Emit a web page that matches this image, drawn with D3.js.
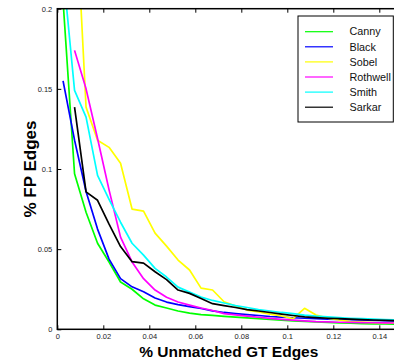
<!DOCTYPE html>
<html>
<head>
<meta charset="utf-8">
<script src="https://cdn.jsdelivr.net/npm/d3@7"></script>
<style>
  html, body { margin: 0; padding: 0; background: #fff; }
  #chart { width: 394px; height: 363px; overflow: hidden; }
  text { font-family: "Liberation Sans", Arial, sans-serif; }
</style>
</head>
<body>
<div id="chart"></div>
<script>
// x positions shared by all curves (% unmatched GT edges)
const unmatched = [0.0025, 0.0075, 0.0125, 0.0175, 0.0225, 0.0275, 0.0325, 0.0375, 0.0425, 0.0475,
  0.0525, 0.0575, 0.0625, 0.0675, 0.0725, 0.0775, 0.0825, 0.0875, 0.0925, 0.0975,
  0.1025, 0.1075, 0.1125, 0.1175, 0.1225, 0.1275, 0.1325, 0.1375, 0.1425, 0.1475];

// % FP edges per detector
const canny = [0.205, 0.097, 0.073, 0.0537, 0.042, 0.0295, 0.025, 0.019, 0.0151, 0.0133,
  0.0114, 0.0101, 0.0092, 0.0087, 0.0081, 0.0076, 0.0071, 0.0066, 0.0061, 0.0057,
  0.0053, 0.005, 0.0046, 0.0043, 0.004, 0.0038, 0.0036, 0.0034, 0.0033, 0.0032];
const black = [0.155, 0.118, 0.086, 0.0625, 0.0438, 0.0316, 0.0265, 0.0234, 0.0195, 0.017,
  0.0154, 0.0142, 0.013, 0.0115, 0.0105, 0.0098, 0.0092, 0.0086, 0.008, 0.0076,
  0.0072, 0.0069, 0.0066, 0.0064, 0.0062, 0.006, 0.0058, 0.0056, 0.0054, 0.0052];
const sobel = [null, 0.28, 0.1386, 0.1179, 0.1135, 0.1036, 0.075, 0.0737, 0.06, 0.0519,
  0.0432, 0.037, 0.0257, 0.0245, 0.0172, 0.0145, 0.012, 0.0108, 0.0095, 0.0083,
  0.0067, 0.0131, 0.0089, 0.007, 0.0058, 0.0048, 0.0045, 0.0042, 0.004, 0.0038];
const rothwell = [null, 0.174, 0.150, 0.119, 0.087, 0.0575, 0.042, 0.0316, 0.0245, 0.020,
  0.017, 0.0151, 0.0133, 0.0117, 0.0098, 0.009, 0.0082, 0.0075, 0.0068, 0.0062,
  0.0057, 0.0052, 0.0048, 0.0046, 0.0044, 0.0043, 0.0042, 0.0041, 0.004, 0.0039];
const smith = [0.224, 0.149, 0.1324, 0.096, 0.081, 0.0668, 0.0537, 0.0463, 0.038, 0.0326,
  0.0263, 0.0232, 0.0201, 0.018, 0.0164, 0.0148, 0.0136, 0.0123, 0.0114, 0.0105,
  0.0098, 0.0089, 0.0082, 0.0077, 0.0073, 0.0069, 0.0066, 0.0063, 0.006, 0.0058];
const sarkar = [null, 0.1386, 0.0857, 0.0805, 0.0656, 0.0516, 0.0422, 0.0413, 0.0359, 0.031,
  0.0245, 0.0224, 0.0192, 0.016, 0.0148, 0.0136, 0.0123, 0.0114, 0.0105, 0.0095,
  0.0086, 0.0078, 0.0073, 0.0069, 0.0066, 0.0063, 0.006, 0.0058, 0.0056, 0.0054];

const names = ['Canny', 'Black', 'Sobel', 'Rothwell', 'Smith', 'Sarkar'];
const values = [canny, black, sobel, rothwell, smith, sarkar];
const colors = ['#00ff00', '#0000ff', '#ffff00', '#ff00ff', '#00ffff', '#000000'];

const xTicks = [0, 0.02, 0.04, 0.06, 0.08, 0.1, 0.12, 0.14];
const yTicks = [0, 0.05, 0.1, 0.15, 0.2];

const width = 394, height = 363;
const margin = { top: 8.7, left: 57.3 };
const plotRight = 402.3, plotBottom = 329.3;

const svg = d3.select('#chart').append('svg')
  .attr('width', width)
  .attr('height', height);

const x = d3.scaleLinear().domain([0, 0.15]).range([margin.left, plotRight]);
const y = d3.scaleLinear().domain([0, 0.2]).range([plotBottom, margin.top]);

svg.append('clipPath').attr('id', 'plot-clip')
  .append('rect')
  .attr('x', margin.left).attr('y', margin.top)
  .attr('width', plotRight - margin.left).attr('height', plotBottom - margin.top);

/* ---------- curves ---------- */
const line = d3.line()
  .defined(d => d[1] !== null)
  .x(d => x(d[0]))
  .y(d => y(d[1]));

const curves = svg.append('g').attr('clip-path', 'url(#plot-clip)');
values.forEach((vals, i) => {
  curves.append('path')
    .datum(unmatched.map((u, j) => [u, vals[j]]))
    .attr('fill', 'none')
    .attr('stroke', colors[i])
    .attr('stroke-width', 1.7)
    .attr('stroke-linejoin', 'round')
    .attr('d', line);
});

/* ---------- axes (ticks inside, boxed) ---------- */
const fmt = d => d3.format('~g')(d);
const axisStyle = g => {
  g.select('.domain').remove();
  g.selectAll('.tick line').attr('stroke', '#000').attr('stroke-width', 1);
  g.selectAll('.tick text').attr('fill', '#222').style('font-size', '7.5px')
    .style('font-family', '"Liberation Sans", Arial, sans-serif');
};

svg.append('g')
  .attr('transform', `translate(0,${plotBottom})`)
  .call(d3.axisBottom(x).tickValues(xTicks).tickFormat(fmt).tickSizeInner(-4).tickSizeOuter(0).tickPadding(4))
  .call(axisStyle);

svg.append('g')
  .attr('transform', `translate(0,${margin.top})`)
  .call(d3.axisTop(x).tickValues(xTicks).tickFormat('').tickSizeInner(-4).tickSizeOuter(0))
  .call(axisStyle);

svg.append('g')
  .attr('transform', `translate(${margin.left},0)`)
  .call(d3.axisLeft(y).tickValues(yTicks).tickFormat(fmt).tickSizeInner(-4).tickSizeOuter(0).tickPadding(5))
  .call(axisStyle);

svg.append('rect')
  .attr('x', margin.left).attr('y', margin.top)
  .attr('width', plotRight - margin.left).attr('height', plotBottom - margin.top)
  .attr('fill', 'none').attr('stroke', '#000').attr('stroke-width', 1.5);

/* ---------- titles ---------- */
svg.append('text')
  .attr('x', (margin.left + plotRight) / 2 - 1)
  .attr('y', 357)
  .attr('text-anchor', 'middle')
  .style('font-size', '15.5px').style('font-weight', 'bold')
  .text('% Unmatched GT Edges');

svg.append('text')
  .attr('transform', `translate(36,${(margin.top + plotBottom) / 2}) rotate(-90)`)
  .attr('text-anchor', 'middle')
  .style('font-size', '17px').style('font-weight', 'bold')
  .text('% FP Edges');

/* ---------- legend ---------- */
const legend = svg.append('g').attr('transform', 'translate(298,16)');
legend.append('rect')
  .attr('width', 95.3).attr('height', 106)
  .attr('fill', '#fff').attr('stroke', '#000').attr('stroke-width', 1);

const item = legend.selectAll('.item').data(names).enter().append('g')
  .attr('transform', (d, i) => `translate(0,${15.7 + i * 15.1})`);
item.append('line')
  .attr('x1', 7).attr('x2', 35)
  .attr('stroke', (d, i) => colors[i]).attr('stroke-width', 1.2);
item.append('text')
  .attr('x', 51.5).attr('dy', '0.35em')
  .style('font-size', '10.8px').attr('fill', '#111')
  .text(d => d);
</script>
</body>
</html>
